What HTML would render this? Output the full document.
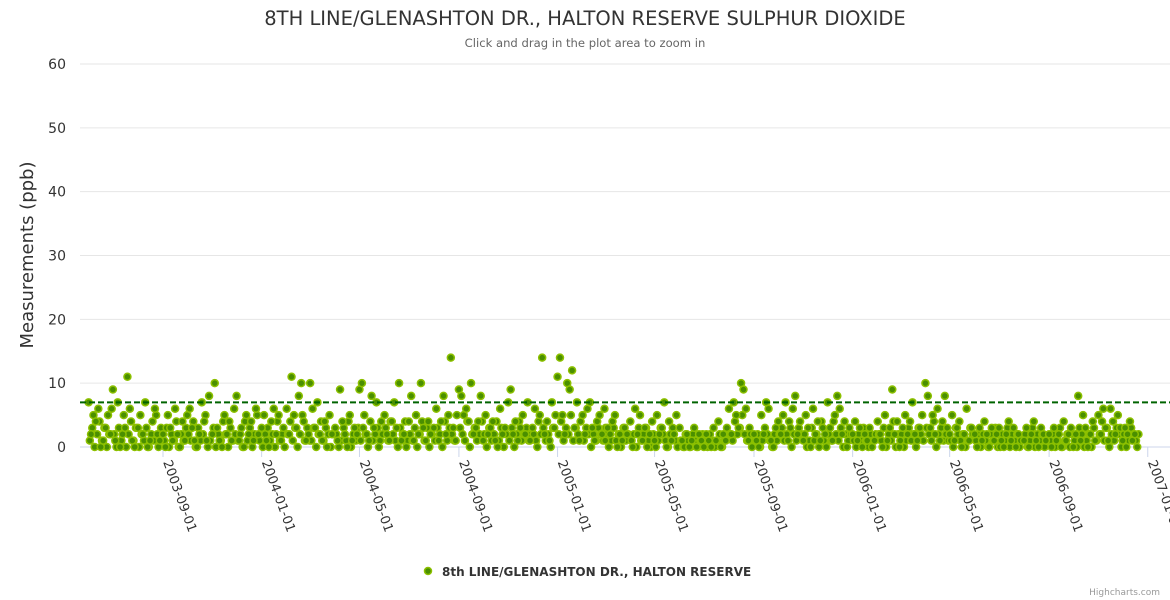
<!DOCTYPE html>
<html><head><meta charset="utf-8"><style>
body{margin:0;background:#fff;font-family:"DejaVu Sans","Liberation Sans",sans-serif}
svg{display:block}
</style></head><body>
<svg id="chart" width="1170" height="600" xmlns="http://www.w3.org/2000/svg" font-family="DejaVu Sans, Liberation Sans, sans-serif">
<text x="585" y="25" text-anchor="middle" font-size="19.5" fill="#333">8TH LINE/GLENASHTON DR., HALTON RESERVE SULPHUR DIOXIDE</text>
<text x="585" y="47" text-anchor="middle" font-size="11.6" fill="#666">Click and drag in the plot area to zoom in</text>
<text transform="translate(33,255) rotate(-90)" text-anchor="middle" font-size="18" fill="#333">Measurements (ppb)</text>
<g id="grid"></g><g id="xaxis"></g><g id="marks"></g>
<g>
<circle cx="428" cy="571" r="3.5" fill="#4a8f00" stroke="#8cc000" stroke-width="1.5"/>
<text x="442" y="576" font-size="12" font-weight="bold" fill="#333">8th LINE/GLENASHTON DR., HALTON RESERVE</text>
</g>
<text x="1160" y="595" text-anchor="end" font-size="9" fill="#999">Highcharts.com</text>
</svg>
<script>
const yTicks=[0,10,20,30,40,50,60];
const xTickLabels=["2003-09-01","2004-01-01","2004-05-01","2004-09-01","2005-01-01","2005-05-01","2005-09-01","2006-01-01","2006-05-01","2006-09-01","2007-01-01"];
const threshold=7;
const startMonth=[2003,5];
const monthValues=[
[7,2,5,4,6,0,1,3,5,2],[9,1,7,0,2,3,11,6,1,0],[3,5,2,7,0,1,4,6,2,1],[2,0,5,3,1,6,2,0,4,1],
[5,6,3,1,0,2,7,4,1,8],[2,10,3,1,0,5,2,4,1,6],[8,1,3,0,5,2,4,1,6,2],[3,5,1,0,4,6,2,5,1,3],
[6,2,11,5,3,8,10,4,1,2],[10,6,3,7,2,1,4,0,5,2],[3,1,9,4,2,0,5,1,3,2],[9,10,5,2,1,8,3,7,0,4],
[5,2,1,4,7,3,10,1,2,0],[4,8,1,5,2,10,3,1,4,2],[3,6,1,4,8,2,5,14,3,1],[9,8,5,6,4,10,2,3,4,8],
[1,5,2,3,4,1,0,6,2,3],[7,9,2,4,1,3,5,2,7,1],[3,6,0,5,14,2,4,1,7,3],[11,14,5,2,10,9,12,3,7,1],
[5,2,6,7,3,1,4,5,2,6],[1,3,2,4,5,0,2,1,3,2],[4,0,6,2,5,1,3,0,2,4],[1,5,2,3,7,0,4,1,2,5],
[3,1,0,2,0,1,3,0,2,1],[0,2,1,0,3,1,4,0,2,1],[6,2,7,5,3,10,9,6,1,2],[2,1,0,5,2,7,6,1,0,3],
[4,2,5,7,1,3,6,8,2,4],[1,5,3,0,6,2,4,1,3,2],[7,3,1,5,8,6,2,4,0,3],[2,4,1,3,0,2,1,3,0,1],
[4,2,0,5,1,3,9,2,4,0],[1,3,5,2,4,7,2,1,3,5],[10,8,3,5,2,6,1,4,8,3],[2,5,1,3,4,0,2,6,1,3],
[2,0,3,1,4,2,0,3,1,2],[3,1,0,2,4,1,3,0,2,1],[1,3,0,2,4,1,0,3,2,1],[2,0,3,1,2,0,4,1,2,3],
[0,2,8,1,5,3,0,2,4,1],[5,2,6,3,1,6,4,2,5,3],[1,3,2,4,1,2,0]
];
const monthValuesB=[
[1,3,0,2,4,1,3,0,2,6],[2,0,3,1,5,0,2,4,1,3],[0,2,1,3,0,2,1,5,0,3],[1,3,0,2,1,4,0,2,1,3],
[2,1,4,0,3,1,2,5,0,1],[3,0,2,1,4,2,0,3,1,2],[1,2,0,4,1,3,0,2,5,1],[0,2,3,1,2,0,4,1,2,0],
[2,4,1,3,0,2,5,1,3,1],[1,3,0,2,4,1,3,2,0,2],[2,0,1,3,1,4,0,2,1,3],[1,3,2,0,4,1,2,3,1,2],
[3,1,4,2,1,0,3,2,4,1],[2,1,3,0,2,4,1,3,0,2],[1,3,2,0,4,1,3,2,1,5],[3,2,1,4,0,2,3,1,2,4],
[2,0,3,1,2,4,1,3,0,2],[1,3,0,2,4,1,2,3,1,2],[2,1,4,2,3,1,2,0,3,5],[2,4,1,3,2,5,1,3,2,4],
[1,3,2,0,2,1,3,2,1,3],[2,0,1,3,1,2,0,3,1,2],[1,2,0,3,1,2,3,1,0,2],[0,1,3,2,1,0,2,3,1,0],
[1,0,2,1,0,2,1,0,1,2],[1,0,2,1,0,1,2,0,1,3],[2,1,4,2,3,5,2,1,3,0],[1,2,0,1,3,2,1,0,2,1],
[2,3,1,2,4,0,2,1,3,2],[2,0,1,3,1,2,0,4,1,0],[2,1,4,2,1,3,0,2,1,2],[1,0,2,1,3,1,0,2,1,2],
[2,1,3,0,2,1,4,0,2,1],[2,0,1,3,1,2,0,3,2,1],[3,2,1,4,0,2,3,1,2,1],[1,0,3,2,1,2,0,1,3,2],
[1,2,0,2,1,0,2,1,3,0],[0,2,1,3,0,2,1,2,0,1],[2,0,1,3,0,2,1,2,0,1],[1,2,0,1,3,0,1,2,0,2],
[1,0,3,2,0,1,2,0,3,1],[2,4,1,3,0,2,1,3,2,0],[2,0,1,3,2,1,2]
];
const NS="http://www.w3.org/2000/svg";
const X0=Date.UTC(2003,8,1),PXD=0.8085,PL=80,PR=1170;
function xs(t){return 163+(t-X0)/864e5*PXD}
function ys(v){return 447-v*(383/60)}
function mk(tag,a,p){const e=document.createElementNS(NS,tag);for(const k in a)e.setAttribute(k,a[k]);p.appendChild(e);return e}
const grid=document.getElementById('grid'),xa=document.getElementById('xaxis'),marks=document.getElementById('marks');
yTicks.forEach(v=>{
 const l=mk('line',{x1:PL,x2:PR,y1:ys(v),y2:ys(v),stroke:v===0?'#ccd6eb':'#e6e6e6','stroke-width':1},grid);
 
 
 const t=mk('text',{x:66,y:ys(v)+5,'text-anchor':'end','font-size':14,fill:'#333'},grid);
 t.textContent=v;
 
 
});
xTickLabels.forEach(s=>{
 const p=s.split('-');const x=xs(Date.UTC(+p[0],+p[1]-1,+p[2]));
 const l=mk('line',{x1:x,x2:x,y1:447,y2:457,stroke:'#ccd6eb'},xa);
 
 
 const t=mk('text',{transform:`translate(${x},${462}) rotate(70)`,'font-size':13,fill:'#333'},xa);
 t.textContent=s;
 
 
});
function drawSeries(src,off){
 src.forEach((arr,mi)=>{
  const y=startMonth[0]+Math.floor((startMonth[1]+mi)/12),m=(startMonth[1]+mi)%12;
  arr.forEach((v,k)=>{
   const c=mk('circle',{cx:xs(Date.UTC(y,m,1+3*k)+off*864e5),cy:ys(v),r:3.5,fill:'#4a8f00',stroke:'#8cc000','stroke-width':1.5},marks);
   
   
  });
 });
}
drawSeries(monthValuesB,1.5);
drawSeries(monthValues,0);
const th=mk('line',{x1:PL,x2:PR,y1:ys(threshold),y2:ys(threshold),stroke:'#006400','stroke-width':2,'stroke-dasharray':'6,3'},marks);


</script>
</body></html>
